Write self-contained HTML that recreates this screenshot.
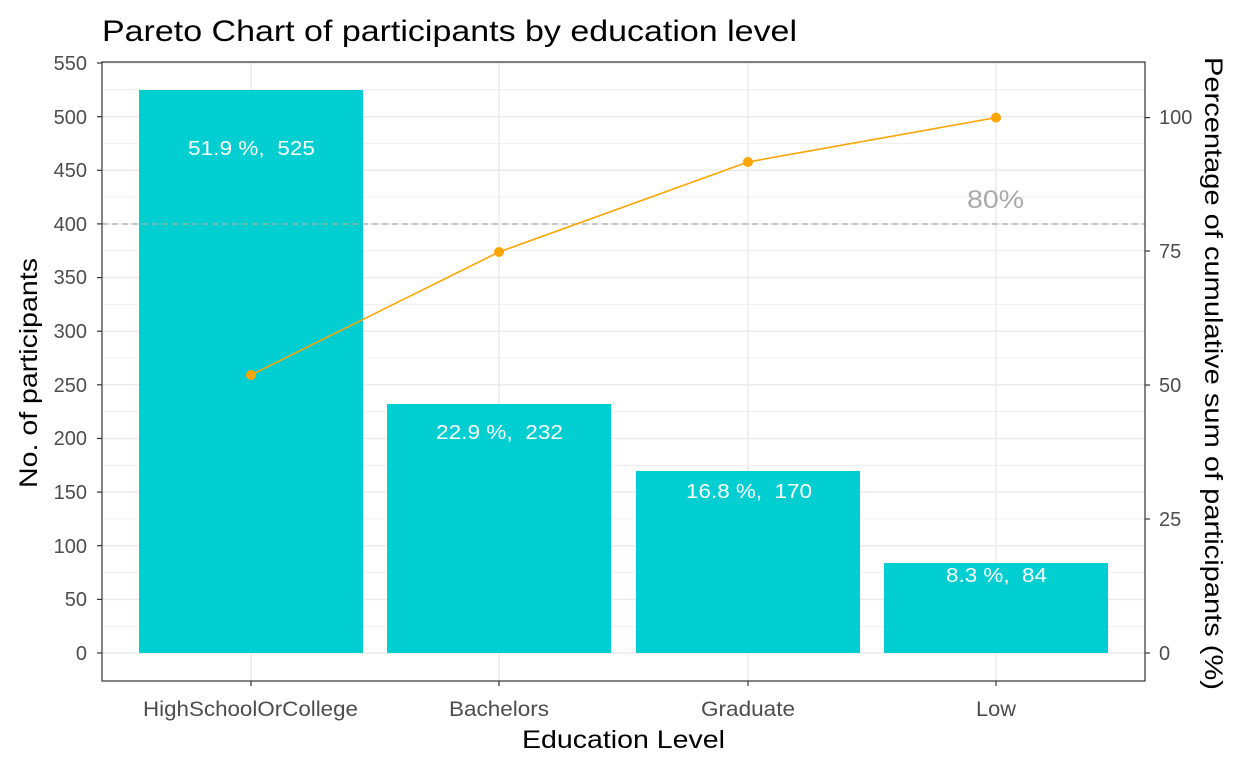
<!DOCTYPE html>
<html><head><meta charset="utf-8"><style>body{margin:0;background:#fff}svg{display:block}</style></head><body>
<svg width="1248" height="768" xmlns="http://www.w3.org/2000/svg" font-family="Liberation Sans, sans-serif">
<rect width="1248" height="768" fill="#fff"/>
<g stroke="#ebebeb" stroke-width="0.8">
<line x1="102" x2="1145" y1="626.2" y2="626.2"/><line x1="102" x2="1145" y1="572.5" y2="572.5"/><line x1="102" x2="1145" y1="518.9" y2="518.9"/><line x1="102" x2="1145" y1="465.3" y2="465.3"/><line x1="102" x2="1145" y1="411.6" y2="411.6"/><line x1="102" x2="1145" y1="358" y2="358"/><line x1="102" x2="1145" y1="304.4" y2="304.4"/><line x1="102" x2="1145" y1="250.7" y2="250.7"/><line x1="102" x2="1145" y1="197.1" y2="197.1"/><line x1="102" x2="1145" y1="143.5" y2="143.5"/><line x1="102" x2="1145" y1="89.8" y2="89.8"/>
</g>
<g stroke="#ebebeb" stroke-width="1.5">
<line x1="102" x2="1145" y1="653" y2="653"/><line x1="102" x2="1145" y1="599.4" y2="599.4"/><line x1="102" x2="1145" y1="545.7" y2="545.7"/><line x1="102" x2="1145" y1="492.1" y2="492.1"/><line x1="102" x2="1145" y1="438.5" y2="438.5"/><line x1="102" x2="1145" y1="384.8" y2="384.8"/><line x1="102" x2="1145" y1="331.2" y2="331.2"/><line x1="102" x2="1145" y1="277.6" y2="277.6"/><line x1="102" x2="1145" y1="223.9" y2="223.9"/><line x1="102" x2="1145" y1="170.3" y2="170.3"/><line x1="102" x2="1145" y1="116.7" y2="116.7"/><line x1="102" x2="1145" y1="63" y2="63"/>
<line x1="251" x2="251" y1="62" y2="681"/><line x1="499" x2="499" y1="62" y2="681"/><line x1="748" x2="748" y1="62" y2="681"/><line x1="996" x2="996" y1="62" y2="681"/>
</g>
<g fill="#00CED1">
<rect x="139" y="90" width="224" height="563"/>
<rect x="387" y="404" width="224" height="249"/>
<rect x="636" y="471" width="224" height="182"/>
<rect x="884" y="563" width="224" height="90"/>
</g>
<g fill="#fff" font-size="20" lengthAdjust="spacingAndGlyphs">
<text x="188" y="155" textLength="127" lengthAdjust="spacingAndGlyphs">51.9 %,&#160; 525</text>
<text x="436" y="439" textLength="127" lengthAdjust="spacingAndGlyphs">22.9 %,&#160; 232</text>
<text x="686" y="498" textLength="126" lengthAdjust="spacingAndGlyphs">16.8 %,&#160; 170</text>
<text x="946" y="582" textLength="101" lengthAdjust="spacingAndGlyphs">8.3 %,&#160; 84</text>
</g>
<line x1="102" x2="1145" y1="224" y2="224" stroke="#aaa" stroke-width="1.2" stroke-dasharray="6,4"/>
<text x="967" y="208" fill="#aaa" font-size="25" textLength="57" lengthAdjust="spacingAndGlyphs">80%</text>
<polyline points="251,375 499,252 748,162 996,117.6" fill="none" stroke="#FFA500" stroke-width="1.6"/>
<g fill="#FFA500"><circle cx="251" cy="375" r="5"/><circle cx="499" cy="252" r="5"/><circle cx="748" cy="162" r="5"/><circle cx="996" cy="117.6" r="5"/></g>
<rect x="102" y="62" width="1043" height="619" fill="none" stroke="#333" stroke-width="1.2"/>
<g stroke="#333" stroke-width="1.2">
<line x1="97" x2="102" y1="653" y2="653"/><line x1="97" x2="102" y1="599.4" y2="599.4"/><line x1="97" x2="102" y1="545.7" y2="545.7"/><line x1="97" x2="102" y1="492.1" y2="492.1"/><line x1="97" x2="102" y1="438.5" y2="438.5"/><line x1="97" x2="102" y1="384.8" y2="384.8"/><line x1="97" x2="102" y1="331.2" y2="331.2"/><line x1="97" x2="102" y1="277.6" y2="277.6"/><line x1="97" x2="102" y1="223.9" y2="223.9"/><line x1="97" x2="102" y1="170.3" y2="170.3"/><line x1="97" x2="102" y1="116.7" y2="116.7"/><line x1="97" x2="102" y1="63" y2="63"/>
<line x1="1145" x2="1150" y1="653" y2="653"/><line x1="1145" x2="1150" y1="519" y2="519"/><line x1="1145" x2="1150" y1="385" y2="385"/><line x1="1145" x2="1150" y1="251" y2="251"/><line x1="1145" x2="1150" y1="117.6" y2="117.6"/>
<line x1="251" x2="251" y1="681" y2="686"/><line x1="499" x2="499" y1="681" y2="686"/><line x1="748" x2="748" y1="681" y2="686"/><line x1="996" x2="996" y1="681" y2="686"/>
</g>
<g fill="#4d4d4d" font-size="20" text-anchor="end">
<text x="87" y="660">0</text><text x="87" y="606">50</text><text x="87" y="553">100</text><text x="87" y="499">150</text><text x="87" y="445">200</text><text x="87" y="392">250</text><text x="87" y="338">300</text><text x="87" y="284">350</text><text x="87" y="231">400</text><text x="87" y="177">450</text><text x="87" y="124">500</text><text x="87" y="70">550</text>
</g>
<g fill="#4d4d4d" font-size="20">
<text x="1159" y="660">0</text><text x="1159" y="526">25</text><text x="1159" y="392">50</text><text x="1159" y="258">75</text><text x="1159" y="124">100</text>
</g>
<g fill="#4d4d4d" font-size="21">
<text x="143" y="716" textLength="215" lengthAdjust="spacingAndGlyphs">HighSchoolOrCollege</text><text x="449" y="716" textLength="100" lengthAdjust="spacingAndGlyphs">Bachelors</text><text x="701" y="716" textLength="94" lengthAdjust="spacingAndGlyphs">Graduate</text><text x="976" y="716" textLength="40" lengthAdjust="spacingAndGlyphs">Low</text>
</g>
<text x="522" y="748" font-size="25" textLength="203" lengthAdjust="spacingAndGlyphs" fill="#000">Education Level</text>
<text transform="translate(37,488) rotate(-90)" font-size="25" textLength="230" lengthAdjust="spacingAndGlyphs" fill="#000">No. of participants</text>
<text transform="translate(1205,57) rotate(90)" font-size="25" textLength="633" lengthAdjust="spacingAndGlyphs" fill="#000">Percentage of cumulative sum of participants (%)</text>
<text x="102" y="41" font-size="30" textLength="695" lengthAdjust="spacingAndGlyphs" fill="#000">Pareto Chart of participants by education level</text>
</svg>
</body></html>
